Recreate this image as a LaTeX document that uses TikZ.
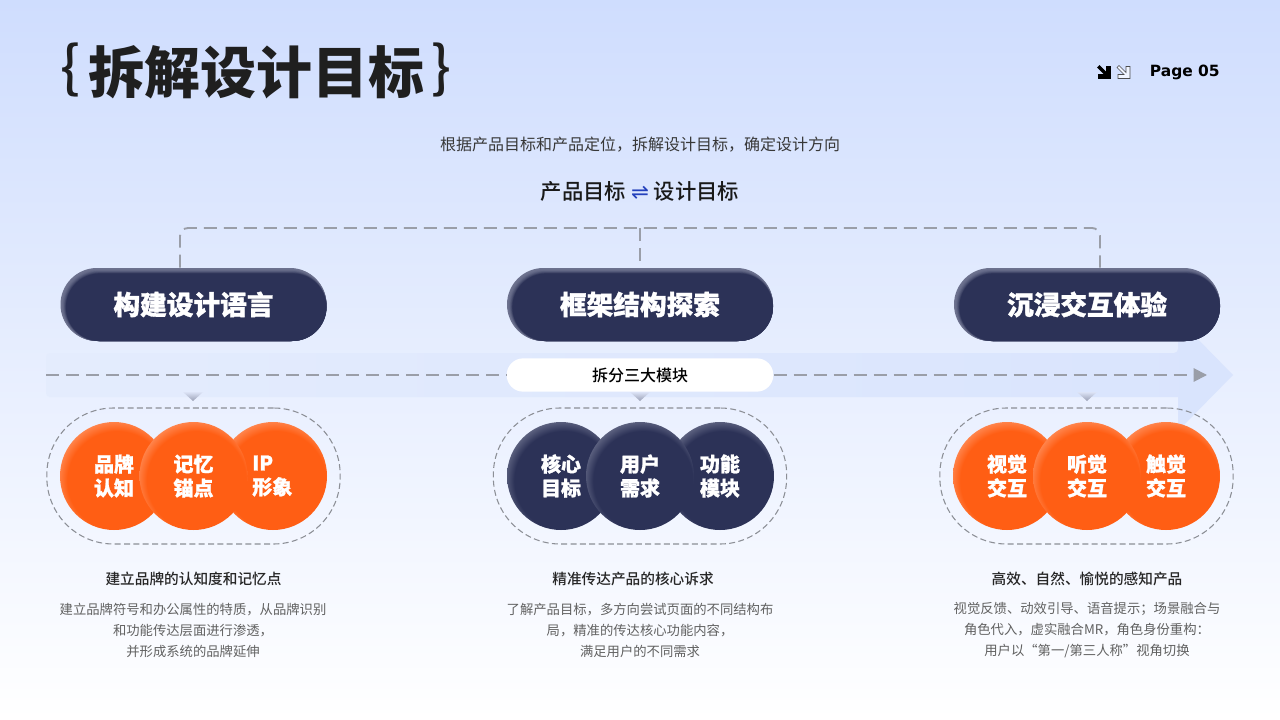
\documentclass[tikz,border=0pt]{standalone}
\usepackage{fontspec}
\usepackage{tikz}
\usetikzlibrary{calc}
\usetikzlibrary{arrows.meta}
\setmainfont{Noto Sans CJK SC}
\newfontfamily\heavyfont[FakeBold=1.2]{Noto Sans CJK SC Black}
\newfontfamily\titlefont{Noto Sans CJK SC Black}
\newfontfamily\mediumfont{Noto Sans CJK SC Medium}
\newfontfamily\pagefont{DejaVu Sans}
\definecolor{bgtop}{HTML}{CFDDFE}
\definecolor{bandleft}{HTML}{E4ECFD}
\definecolor{bandright}{HTML}{D9E4FD}
\definecolor{guidegray}{HTML}{9A9EA8}
\definecolor{ringgray}{HTML}{8C8F96}
\definecolor{navy}{HTML}{2C3257}
\definecolor{navyrim}{HTML}{9DA1B6}
\definecolor{pillrim}{HTML}{6E7390}
\definecolor{tangerine}{HTML}{FF5E14}
\definecolor{tangerinerim}{HTML}{FFB898}
\definecolor{harpoonblue}{HTML}{2340BC}
\definecolor{notchtop}{HTML}{DCE3F6}
\definecolor{notchtip}{HTML}{9AA0B5}
\pgfdeclareradialshading{navyball}{\pgfpoint{2.5bp}{-4bp}}{color(0bp)=(navy); color(23bp)=(navy); color(33bp)=(navyrim); color(50bp)=(navyrim)}
\pgfdeclareradialshading{tangerineball}{\pgfpoint{2.5bp}{-4bp}}{color(0bp)=(tangerine); color(23bp)=(tangerine); color(33bp)=(tangerinerim); color(50bp)=(tangerinerim)}
\newcommand{\setsize}[2]{\fontsize{#1pt}{#2pt}\selectfont}
\newcommand{\softpill}[3]{
  \foreach \i in {0,...,9} {
    \pgfmathsetmacro{\p}{min(100,\i*\i*1.25)}
    \pgfmathsetmacro{\r}{(36.5-\i*0.3)*0.75}
    \fill[navy!\p!pillrim, rounded corners=\r pt] (#2-133+\i*0.6,268+\i*0.6) rectangle (#2+133,341);
  }
  \node[pilllabel] (#1) at (#2,304.5) {#3};
}
\newcommand{\softball}[5]{\node[ball, shading=#4] (#1) at (#2,#3) {#5};}
\newcommand{\notch}[1]{\shade[top color=notchtop, bottom color=notchtip] (#1-10,392) -- (#1+10,392) -- (#1,401) -- cycle;}
\newcommand{\pagearrow}[2]{\draw[#2, line width=0.5pt, shift={(#1,65.5)}] (0,2) -- (2,0) -- (9,7) -- (9,1) -- (13,1) -- (13,13) -- (1,13) -- (1,9) -- (7,9) -- cycle;}
\tikzset{
  guide/.style={guidegray, line width=1.4pt, dash pattern=on 9.75pt off 5.25pt},
  ring/.style={draw=ringgray, line width=0.8pt, dash pattern=on 4.5pt off 2.5pt, rounded corners=50pt, minimum width=220pt, minimum height=102pt, inner sep=0pt},
  ball/.style={circle, minimum size=81pt, inner sep=0pt, text=white, align=center, font=\heavyfont\setsize{15}{18}},
  pilllabel/.style={minimum width=199.5pt, minimum height=54.75pt, inner sep=0pt, text=white, font=\heavyfont\setsize{20}{24}},
  headline/.style={text=black!85, font=\mediumfont\setsize{11}{14}},
  bodytext/.style={text=black!62, align=center, font=\setsize{10}{15.75}}
}
\begin{document}
\begin{tikzpicture}[x=0.75pt,y=-0.75pt]
        %background
        \shade[top color=bgtop, bottom color=white] (0,0) rectangle (1280,720);
        \useasboundingbox (0,0) rectangle (1280,720);

        %title
        \node[text=black!88, font=\titlefont\setsize{42}{50}] (title) at (256,72) {拆解设计目标};
        \node[text=black!88, font=\mediumfont\setsize{42}{50}] (braceL) at (70,70) {\{};
        \node[text=black!88, font=\mediumfont\setsize{42}{50}] (braceR) at (441,70) {\}};
        \pagearrow{1097.5}{fill=black, draw=black}
        \pagearrow{1117}{fill=white!70!bgtop, draw=black!70}
        \node[anchor=east, inner sep=0pt, font=\pagefont\bfseries\setsize{11.6}{14}] (page) at (1220,72) {Page 05};

        %intro
        \node[text=black!78, font=\setsize{12}{15}] (intro) at (640,145) {根据产品目标和产品定位，拆解设计目标，确定设计方向};
        \node[text=black!90, font=\mediumfont\setsize{16}{20}] (goal) at (640,191) {产品目标 {\pagefont\color{harpoonblue}⇌} 设计目标};

        %band
        \shade[left color=bandleft, right color=bandright, rounded corners=3pt] (46,375) |- (1178,353) [sharp corners] -- (1178,319) -- (1233,375) -- (1178,431) -- (1178,397) [rounded corners=3pt] -| cycle;
        \notch{193} \notch{640} \notch{1087}

        %pills
        \softpill{pillA}{193.5}{构建设计语言}
        \softpill{pillB}{640}{框架结构探索}
        \softpill{pillC}{1087}{沉浸交互体验}

        %guide
        \coordinate (guideL) at (180,228);
        \coordinate (guideM) at (640,228);
        \coordinate (guideR) at (1100,228);
        \draw[guide, rounded corners=6pt] (pillA.north -| guideL) -- (guideL) -- (guideR) -- (pillC.north -| guideR);
        \draw[guide] (guideM) -- (pillB.north);

        %middle row
        \node[fill=white, rounded corners=12.4pt, minimum width=200pt, minimum height=25pt, inner sep=0pt, font=\mediumfont\setsize{12}{15}] (split) at (640,375) {拆分三大模块};
        \coordinate (bandstart) at (46,375);
        \coordinate (bandend) at (1207,375);
        \draw[guide] (bandstart) -- (split.west);
        \draw[guide, -{Triangle[length=10pt, width=10pt]}] (split.east) -- (bandend);

        %rings
        \node[ring] (ringA) at (193.5,476) {};
        \node[ring] (ringB) at (640,476) {};
        \node[ring] (ringC) at (1086.5,476) {};

        %balls
        \softball{ballA}{114}{476}{tangerineball}{品牌\\认知}
        \softball{ballC}{273}{476}{tangerineball}{\hspace*{-1pt}\parbox{30pt}{\centering\raggedright IP\\形象}}
        \softball{ballB}{193.5}{476}{tangerineball}{记忆\\锚点}
        \softball{ballD}{561}{476}{navyball}{核心\\目标}
        \softball{ballF}{720}{476}{navyball}{功能\\模块}
        \softball{ballE}{640}{476}{navyball}{用户\\需求}
        \softball{ballG}{1007}{476}{tangerineball}{视觉\\交互}
        \softball{ballI}{1166}{476}{tangerineball}{触觉\\交互}
        \softball{ballH}{1087}{476}{tangerineball}{听觉\\交互}

        %captions
        \node[headline] (headA) at (193.5,578.5) {建立品牌的认知度和记忆点};
        \node[headline] (headB) at (633,578.5) {精准传达产品的核心诉求};
        \node[headline] (headC) at (1087,578.5) {高效、自然、愉悦的感知产品};
        \node[bodytext] (bodyA) at (193,630) {建立品牌符号和办公属性的特质，从品牌识别\\和功能传达层面进行渗透，\\并形成系统的品牌延伸};
        \node[bodytext] (bodyB) at (640,630) {了解产品目标，多方向尝试页面的不同结构布\\局，精准的传达核心功能内容，\\满足用户的不同需求};
        \node[bodytext] (bodyC) at (1087,630) {视觉反馈、动效引导、语音提示；场景融合与\\角色代入，虚实融合MR，角色身份重构：\\用户以“第一/第三人称”视角切换};
\end{tikzpicture}
\end{document}
